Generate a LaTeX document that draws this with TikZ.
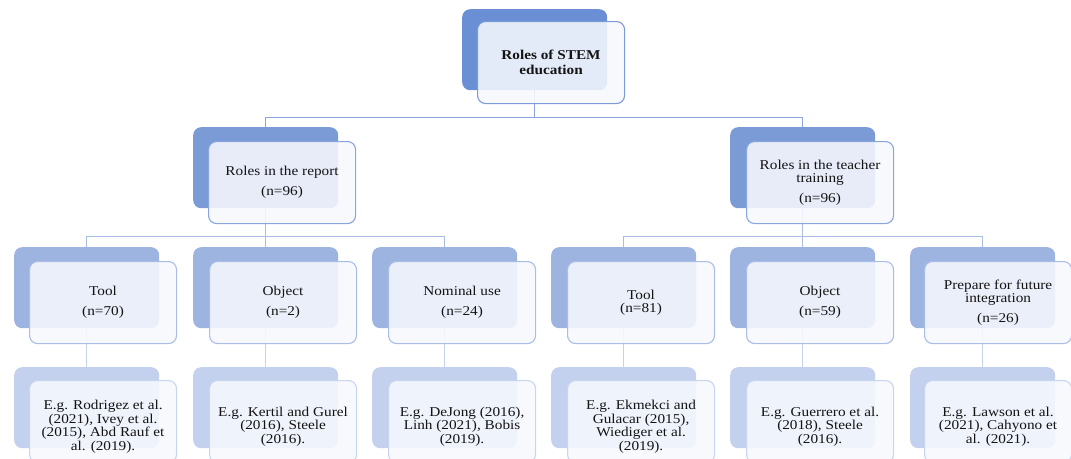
\documentclass[tikz,border=0pt]{standalone}
\usepackage{fontspec}
\setmainfont{Liberation Serif}[FakeStretch=1.13]
\definecolor{backA}{HTML}{6A8FD5}
\definecolor{backB}{HTML}{7B9BD6}
\definecolor{backC}{HTML}{9EB4E0}
\definecolor{backD}{HTML}{C4D1EE}
\definecolor{frontfill}{HTML}{F6F8FD}
\definecolor{edgeA}{HTML}{7B9AD8}
\definecolor{edgeB}{HTML}{8AA5DC}
\definecolor{edgeC}{HTML}{A9BDE6}
\definecolor{edgeD}{HTML}{C8D5EF}
\definecolor{lineA}{HTML}{8AA5DC}
\definecolor{lineB}{HTML}{AABDE6}
\definecolor{lineC}{HTML}{C5D2EE}
\definecolor{txt}{HTML}{141414}
\tikzset{
  backbox/.style={rounded corners=8pt, minimum width=145pt, minimum height=81pt, inner sep=0pt, anchor=north west, draw=none},
  frontbox/.style={rounded corners=8pt, minimum width=147pt, minimum height=82pt, inner sep=0pt, anchor=north west,
    fill=frontfill, fill opacity=0.88, text opacity=1, line width=1.1pt, align=center, text=txt,
    font=\fontsize{13.5}{13.5}\selectfont},
  reftext/.style={inner sep=0pt, align=center, text=txt, font=\fontsize{13.5}{13.6}\selectfont},
  conn/.style={line width=1.5pt},
}
\begin{document}
\begin{tikzpicture}[x=1pt,y=-1pt]
\useasboundingbox (0,0) rectangle (1071,458);
% back boxes
\node[backbox, fill=backA] (b1) at (462,9) {};
\node[backbox, fill=backB] (b2) at (193,127) {};
\node[backbox, fill=backB] (b3) at (730,127) {};
\node[backbox, fill=backC] (c1) at (14,247) {};
\node[backbox, fill=backC] (c2) at (193,247) {};
\node[backbox, fill=backC] (c3) at (372,247) {};
\node[backbox, fill=backC] (c4) at (551,247) {};
\node[backbox, fill=backC] (c5) at (730,247) {};
\node[backbox, fill=backC] (c6) at (910,247) {};
\node[backbox, fill=backD] (d1) at (14,367) {};
\node[backbox, fill=backD] (d2) at (193,367) {};
\node[backbox, fill=backD] (d3) at (372,367) {};
\node[backbox, fill=backD] (d4) at (551,367) {};
\node[backbox, fill=backD] (d5) at (730,367) {};
\node[backbox, fill=backD] (d6) at (910,367) {};
% connectors
\draw[conn, lineA] (b1.south) -- ++(0,27) -| (b2.north);
\draw[conn, lineA] (b1.south) -- ++(0,27) -| (b3.north);
\foreach \c in {c1,c2,c3} \draw[conn, lineB] (b2.south) -- ++(0,28) -| (\c.north);
\foreach \c in {c4,c5,c6} \draw[conn, lineB] (b3.south) -- ++(0,28) -| (\c.north);
\draw[conn, lineC] (c1.south) -- (d1.north);
\draw[conn, lineC] (c2.south) -- (d2.north);
\draw[conn, lineC] (c3.south) -- (d3.north);
\draw[conn, lineC] (c4.south) -- (d4.north);
\draw[conn, lineC] (c5.south) -- (d5.north);
\draw[conn, lineC] (c6.south) -- (d6.north);
% front boxes
\node[frontbox, draw=edgeA, font=\fontsize{13.5}{15}\selectfont\bfseries] (f1) at (477,21) {Roles of STEM\\education};
\node[frontbox, draw=edgeB] (f2) at (208,141) {Roles in the report\\[6.5pt](n=96)};
\node[frontbox, draw=edgeB] (f3) at (746,141) {Roles in the teacher\\training\\[6.5pt](n=96)};
\node[frontbox, draw=edgeC] (g1) at (29,261) {Tool\\[6.5pt](n=70)};
\node[frontbox, draw=edgeC] (g2) at (209,261) {Object\\[6.5pt](n=2)};
\node[frontbox, draw=edgeC] (g3) at (388,261) {Nominal use\\[6.5pt](n=24)};
\node[frontbox, draw=edgeC] (g4) at (567,261) {Tool\\(n=81)};
\node[frontbox, draw=edgeC] (g5) at (746,261) {Object\\[6.5pt](n=59)};
\node[frontbox, draw=edgeC] (g6) at (924,261) {Prepare for future\\integration\\[6.5pt](n=26)};
\node[frontbox, draw=edgeD] (h1) at (29,380) {};
\node[frontbox, draw=edgeD] (h2) at (209,380) {};
\node[frontbox, draw=edgeD] (h3) at (388,380) {};
\node[frontbox, draw=edgeD] (h4) at (567,380) {};
\node[frontbox, draw=edgeD] (h5) at (746,380) {};
\node[frontbox, draw=edgeD] (h6) at (924,380) {};
\node[reftext] (t1) at ([yshift=-5pt]h1.center) {E.g. Rodrigez et al.\\(2021), Ivey et al.\\(2015), Abd Rauf et\\al. (2019).};
\node[reftext] (t2) at ([yshift=-5pt]h2.center) {E.g. Kertil and Gurel\\(2016), Steele\\(2016).};
\node[reftext] (t3) at ([yshift=-5pt]h3.center) {E.g. DeJong (2016),\\Linh (2021), Bobis\\(2019).};
\node[reftext] (t4) at ([yshift=-5pt]h4.center) {E.g. Ekmekci and\\Gulacar (2015),\\Wiediger et al.\\(2019).};
\node[reftext] (t5) at ([yshift=-5pt]h5.center) {E.g. Guerrero et al.\\(2018), Steele\\(2016).};
\node[reftext] (t6) at ([yshift=-5pt]h6.center) {E.g. Lawson et al.\\(2021), Cahyono et\\al. (2021).};
\end{tikzpicture}
\end{document}
